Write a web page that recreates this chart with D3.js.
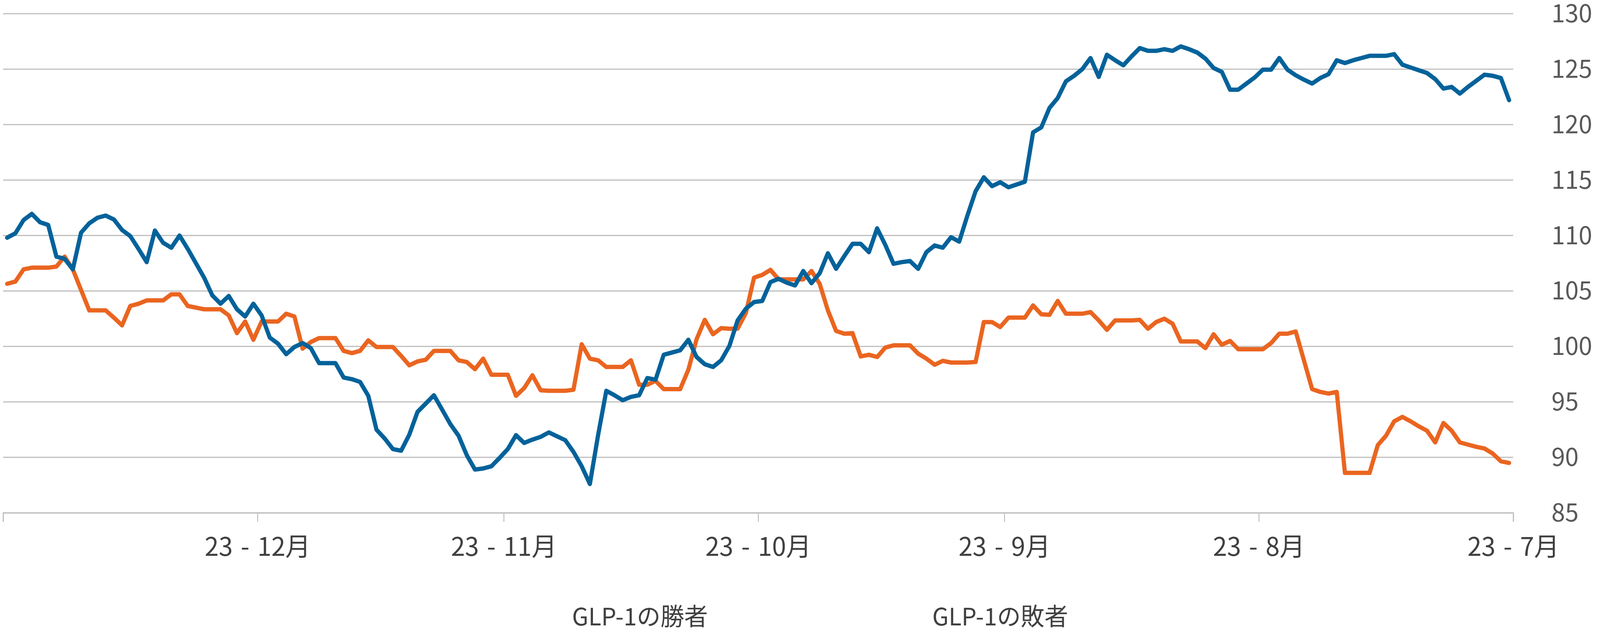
<!DOCTYPE html>
<html>
<head>
<meta charset="utf-8">
<script src="https://cdn.jsdelivr.net/npm/d3@7"></script>
<style>
  html, body { margin: 0; padding: 0; background: #ffffff; width: 100%; height: 100%; overflow: hidden; }
  svg { display: block; width: 100vw; height: 100vh; }
  text { font-family: "Noto Sans CJK JP", "Noto Sans", sans-serif; }
</style>
</head>
<body>
<script>
// ---- data (daily values, chronological: 2023-07-01 .. 2023-12-31) ----
const firstDay = "2023-07-01";
const lastDay = "2023-12-31";

const seriesNames = ["GLP-1の勝者", "GLP-1の敗者"];

// GLP-1 winners (blue)
const winners = [
  122.2, 124.2, 124.4, 124.5, 123.95, 123.4, 122.8, 123.4, 123.25, 124.1,
  124.65, 124.9, 125.15, 125.4, 126.35, 126.2, 126.2, 126.2, 126.0, 125.8,
  125.55, 125.8, 124.55, 124.2, 123.7, 124.05, 124.45, 124.95, 126.0, 124.95,
  124.95, 124.25, 123.7, 123.15, 123.15, 124.75, 125.1, 125.95, 126.5, 126.8,
  127.05, 126.65, 126.8, 126.65, 126.65, 126.9, 126.15, 125.35, 125.8, 126.3,
  124.3, 126.0, 125.0, 124.4, 123.9, 122.4, 121.5, 119.75, 119.3, 114.85,
  114.6, 114.35, 114.8, 114.45, 115.25, 114.0, 111.8, 109.45, 109.85, 108.9,
  109.1, 108.5, 107.0, 107.7, 107.6, 107.45, 109.15, 110.65, 108.5, 109.25,
  109.25, 108.15, 107.0, 108.4, 106.6, 105.7, 106.8, 105.5, 105.75, 106.1,
  105.8, 104.1, 104.0, 103.4, 102.35, 100.05, 98.75, 98.15, 98.4, 99.05,
  100.6, 99.65, 99.45, 99.25, 97.0, 97.15, 95.6, 95.45, 95.15, 95.6,
  96.0, 92.0, 87.6, 89.2, 90.5, 91.55, 91.9, 92.25, 91.85, 91.6,
  91.3, 92.0, 90.75, 89.95, 89.2, 89.0, 88.9, 90.2, 91.95, 93.0,
  94.3, 95.6, 94.85, 94.1, 92.05, 90.6, 90.75, 91.7, 92.5, 95.55,
  96.8, 97.05, 97.2, 98.5, 98.5, 98.5, 99.85, 100.3, 99.95, 99.3,
  100.25, 100.8, 102.8, 103.85, 102.7, 103.35, 104.55, 103.85, 104.6, 106.2,
  107.5, 108.8, 110.0, 108.9, 109.35, 110.45, 107.6, 108.8, 109.95, 110.5,
  111.45, 111.8, 111.6, 111.1, 110.25, 106.95, 107.9, 108.1, 110.95, 111.2,
  111.95, 111.4, 110.2, 109.8
];

// GLP-1 losers (orange)
const losers = [
  89.5, 89.65, 90.35, 90.8, 90.95, 91.15, 91.35, 92.4, 93.1, 91.35,
  92.4, 92.8, 93.25, 93.65, 93.25, 91.95, 91.1, 88.6, 88.6, 88.6,
  88.6, 95.9, 95.75, 95.9, 96.15, 98.75, 101.35, 101.15, 101.15, 100.3,
  99.75, 99.75, 99.75, 99.75, 100.5, 100.15, 101.1, 99.85, 100.45, 100.45,
  100.45, 102.05, 102.5, 102.2, 101.6, 102.4, 102.35, 102.35, 102.35, 101.5,
  102.35, 103.1, 102.95, 102.95, 102.95, 104.1, 102.85, 102.9, 103.7, 102.6,
  102.6, 102.6, 101.75, 102.2, 102.2, 98.6, 98.55, 98.55, 98.55, 98.7,
  98.35, 98.9, 99.35, 100.1, 100.1, 100.1, 99.9, 99.05, 99.25, 99.1,
  101.2, 101.15, 101.4, 103.25, 105.65, 106.8, 106.05, 106.05, 106.05, 106.05,
  106.9, 106.45, 106.2, 103.0, 101.6, 101.6, 101.65, 101.1, 102.4, 100.65,
  97.9, 96.15, 96.15, 96.15, 96.9, 96.55, 96.55, 98.75, 98.15, 98.15,
  98.15, 98.75, 98.9, 100.2, 96.1, 96.0, 96.0, 96.0, 96.05, 97.4,
  96.25, 95.55, 97.45, 97.45, 97.45, 98.9, 97.95, 98.6, 98.75, 99.6,
  99.6, 99.6, 98.8, 98.65, 98.3, 99.15, 99.95, 99.95, 99.95, 100.55,
  99.6, 99.4, 99.6, 100.75, 100.75, 100.75, 100.4, 99.8, 102.7, 102.95,
  102.25, 102.25, 102.25, 100.6, 102.25, 101.2, 102.8, 103.35, 103.35, 103.35,
  103.5, 103.65, 104.7, 104.7, 104.15, 104.15, 104.15, 103.85, 103.65, 101.9,
  102.6, 103.25, 103.25, 103.25, 105.1, 106.95, 108.1, 107.2, 107.1, 107.1,
  107.1, 106.95, 105.85, 105.65
];

const yTicks = [85, 90, 95, 100, 105, 110, 115, 120, 125, 130];
const monthTicks = ["2023-07-01", "2023-08-01", "2023-09-01", "2023-10-01", "2023-11-01", "2023-12-01", "2024-01-01"];
const monthLabels = ["23 - 7月", "23 - 8月", "23 - 9月", "23 - 10月", "23 - 11月", "23 - 12月", ""];

// ---- layout ----
const W = 4184, H = 1622;
const plotLeft = 8, plotRight = 3957, plotTop = 35, plotBottom = 1312;
const colors = { win: "#03629A", lose: "#EA6520" };

const parse = d3.timeParse("%Y-%m-%d");
const days = d3.timeDay.range(parse(firstDay), d3.timeDay.offset(parse(lastDay), 1));
const noon = d => d3.timeHour.offset(d, 12);

const x = d3.scaleTime()
  .domain([parse("2024-01-01"), parse("2023-07-01")])   // reversed: newest on the left
  .range([plotLeft, plotRight]);
const y = d3.scaleLinear().domain([85, 130]).range([plotBottom, plotTop]);

const svg = d3.select("body").append("svg")
  .attr("viewBox", `0 0 ${W} ${H}`)
  .attr("preserveAspectRatio", "none");

// gridlines
svg.append("g").selectAll("line")
  .data(yTicks)
  .join("line")
  .attr("x1", plotLeft).attr("x2", plotRight)
  .attr("y1", d => y(d)).attr("y2", d => y(d))
  .attr("stroke", "#BFBFBF").attr("stroke-width", 3);

// y labels (right side)
svg.append("g").selectAll("text")
  .data(yTicks)
  .join("text")
  .attr("x", 4057)
  .attr("y", d => y(d) + 22)
  .attr("font-size", 64)
  .attr("fill", "#595959")
  .text(d => d);

// x axis
const tickDates = monthTicks.map(parse);
const xAxis = d3.axisBottom(x)
  .tickValues(tickDates)
  .tickSize(23)
  .tickPadding(40)
  .tickFormat((d, i) => monthLabels[i]);

const gx = svg.append("g")
  .attr("transform", `translate(0,${plotBottom})`)
  .call(xAxis);
gx.select(".domain").attr("stroke", "#BFBFBF").attr("stroke-width", 3);
gx.selectAll(".tick line").attr("stroke", "#BFBFBF").attr("stroke-width", 2.5);
gx.selectAll(".tick text")
  .attr("font-size", 66)
  .attr("word-spacing", 6)
  .attr("fill", "#404040")
  .attr("font-family", "\"Noto Sans CJK JP\", sans-serif");

// lines
const line = d3.line()
  .x((d, i) => x(noon(days[i])))
  .y(d => y(d));

svg.append("path")
  .datum(losers)
  .attr("d", line)
  .attr("fill", "none")
  .attr("stroke", colors.lose)
  .attr("stroke-width", 11)
  .attr("stroke-linejoin", "round")
  .attr("stroke-linecap", "round");

svg.append("path")
  .datum(winners)
  .attr("d", line)
  .attr("fill", "none")
  .attr("stroke", colors.win)
  .attr("stroke-width", 11)
  .attr("stroke-linejoin", "round")
  .attr("stroke-linecap", "round");

// legend (text only)
const legendX = [1496, 2438];
svg.append("g").selectAll("text")
  .data(seriesNames)
  .join("text")
  .attr("x", (d, i) => legendX[i])
  .attr("y", 1600)
  .attr("font-size", 62)
  .attr("fill", "#404040")
  .text(d => d);
</script>
</body>
</html>
